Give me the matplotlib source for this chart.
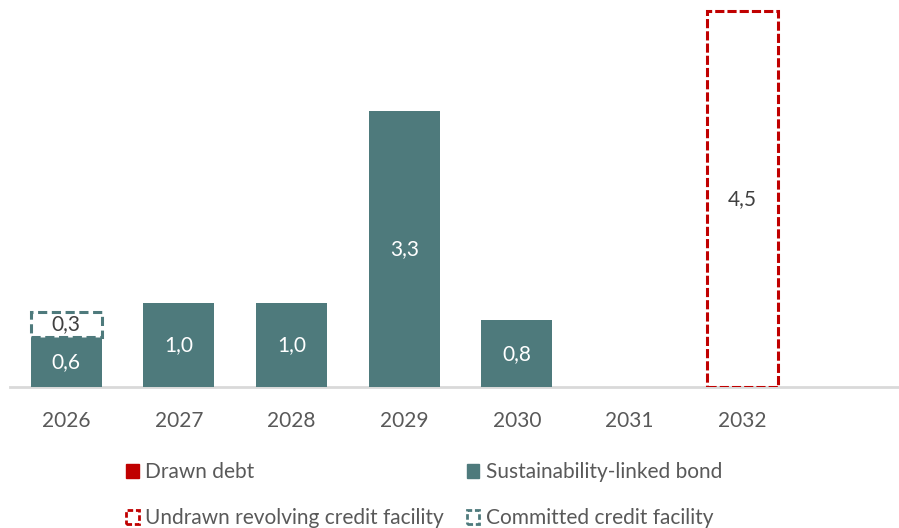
import matplotlib.pyplot as plt
from matplotlib.patches import Patch

years = ["2026", "2027", "2028", "2029", "2030", "2031", "2032"]
drawn_debt = [0, 0, 0, 0, 0, 0, 0]
bond = [0.6, 1.0, 1.0, 3.3, 0.8, 0, 0]
committed = [0.3, 0, 0, 0, 0, 0, 0]
undrawn_rcf = [0, 0, 0, 0, 0, 0, 4.5]

teal = "#4E7A7C"
red = "#C00000"
text_dark = "#404040"
text_gray = "#595959"

plt.rcParams["font.family"] = ["Lato", "DejaVu Sans"]
fs = 15

fig = plt.figure(figsize=(8.99, 5.28), dpi=100)
ax = fig.add_axes([0.011, 0.267, 0.989, 0.733])

x = list(range(len(years)))
w = 0.63

def fmt(v):
    return f"{v:.1f}".replace(".", ",")

# drawn debt (none in this period)
ax.bar(x, drawn_debt, w, color=red)

# sustainability-linked bond
ax.bar(x, bond, w, color=teal, zorder=2)
for xi, v in zip(x, bond):
    if v > 0:
        ax.text(xi, v / 2, fmt(v), ha="center", va="center", color="white", fontsize=fs)

# committed credit facility stacked on the bond
for xi, b, v in zip(x, bond, committed):
    if v > 0:
        ax.bar(xi, v, w, bottom=b, facecolor="white", edgecolor=teal,
               linestyle=(0, (3, 1.5)), linewidth=2.2, zorder=3)
        ax.text(xi, b + v / 2, fmt(v), ha="center", va="center", color=text_dark,
                fontsize=fs, zorder=4)

# undrawn revolving credit facility
for xi, v in zip(x, undrawn_rcf):
    if v > 0:
        ax.bar(xi, v, w, facecolor="none", edgecolor=red,
               linestyle=(0, (3, 1)), linewidth=2.2, zorder=3)
        ax.text(xi, v / 2, fmt(v), ha="center", va="center", color=text_dark, fontsize=fs)

ax.set_xlim(-0.5, 7.39)
ax.set_ylim(0, 4.5 * 387 / 376)
ax.set_xticks(x)
ax.set_xticklabels(years, fontsize=fs, color=text_gray)
ax.tick_params(axis="x", length=0, pad=17)
ax.set_yticks([])
for s in ["top", "right", "left"]:
    ax.spines[s].set_visible(False)
ax.spines["bottom"].set_color("#D9D9D9")
ax.spines["bottom"].set_linewidth(2)
ax.spines["bottom"].set_zorder(1)

handles = [
    Patch(facecolor=red, edgecolor=red, label="Drawn debt"),
    Patch(facecolor="white", edgecolor=red, linestyle=(0, (2, 1)), linewidth=2,
          label="Undrawn revolving credit facility"),
    Patch(facecolor=teal, edgecolor=teal, label="Sustainability-linked bond"),
    Patch(facecolor="white", edgecolor=teal, linestyle=(0, (2, 1)), linewidth=2,
          label="Committed credit facility"),
]
leg = fig.legend(handles=handles, ncol=2, loc="upper left", bbox_to_anchor=(0.129, 0.144),
                 frameon=False, fontsize=fs, handlelength=0.6, handleheight=0.6,
                 handletextpad=0.3, columnspacing=1.1, labelspacing=1.25, borderpad=0)
for t in leg.get_texts():
    t.set_color(text_gray)

fig.savefig("out.png", dpi=100)
